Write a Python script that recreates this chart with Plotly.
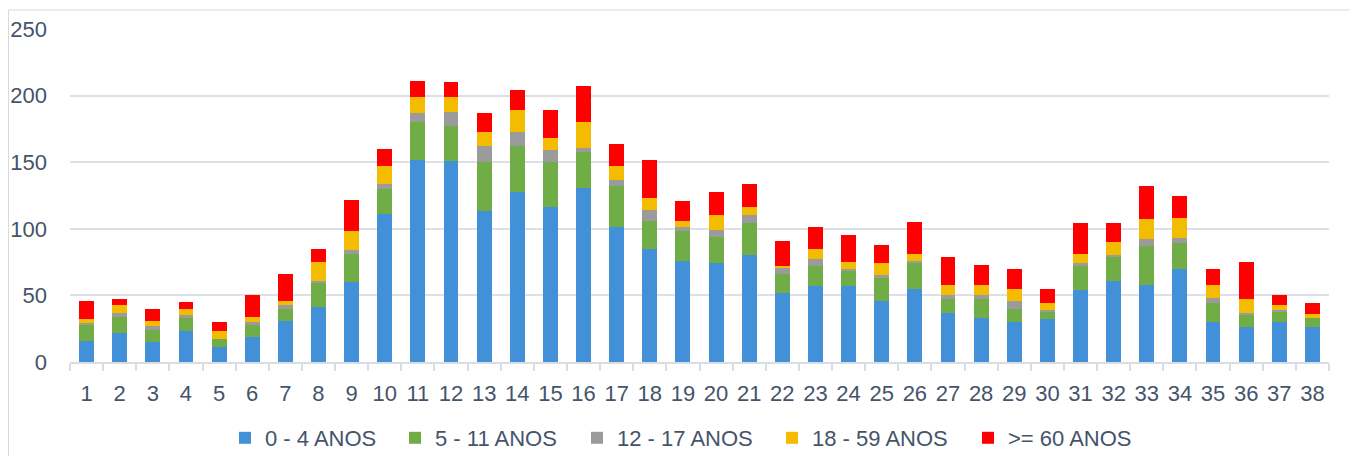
import plotly.graph_objects as go

categories = [str(i) for i in range(1, 39)]

series_names = ["0 - 4 ANOS", "5 - 11 ANOS", "12 - 17 ANOS", "18 - 59 ANOS", ">= 60 ANOS"]

age_0_4 = [16, 22, 15, 23, 11, 19, 31, 41, 60, 111, 152, 151, 113, 128, 116, 131, 101, 85, 76,
           74, 80, 52, 57, 57, 46, 55, 37, 33, 30, 32, 54, 61, 58, 70, 30, 26, 30, 26]
age_5_11 = [12, 12, 9, 10, 6, 9, 9, 19, 21, 19, 28, 26, 37, 34, 34, 27, 31, 21, 22,
            20, 24, 14, 15, 12, 17, 20, 10, 14, 10, 6, 18, 18, 29, 19, 14, 10, 8, 7]
age_12_17 = [1, 3, 3, 2, 0, 2, 3, 1, 3, 4, 7, 11, 12, 11, 9, 3, 5, 8, 3,
             5, 6, 5, 5, 1, 2, 1, 3, 3, 6, 1, 2, 1, 5, 4, 4, 1, 1, 0]
age_18_59 = [3, 6, 4, 5, 6, 4, 3, 14, 14, 13, 12, 11, 11, 16, 9, 19, 10, 9, 5,
             11, 6, 1, 8, 5, 9, 5, 8, 8, 9, 5, 7, 10, 15, 15, 10, 10, 4, 3]
age_60_plus = [14, 4, 9, 5, 7, 16, 20, 10, 24, 13, 12, 11, 14, 15, 21, 27, 17, 29, 15,
               18, 18, 19, 16, 20, 14, 24, 21, 15, 15, 11, 23, 14, 25, 17, 12, 28, 7, 8]

series_values = [age_0_4, age_5_11, age_12_17, age_18_59, age_60_plus]
colors = ["#4190D8", "#70AD47", "#9B9B9B", "#F4BC00", "#FF0000"]
legend_widths = [125, 137, 150, 151, 128]

y_ticks = [0, 50, 100, 150, 200, 250]

FONT = "Liberation Sans, Arial, sans-serif"
TEXT_COLOR = "#44546A"

fig = go.Figure()
for name, vals, col, lw in zip(series_names, series_values, colors, legend_widths):
    fig.add_trace(go.Bar(
        x=categories, y=vals, name=name,
        marker=dict(color=col, line=dict(width=0)),
        legendwidth=lw,
    ))

# page body has an 8px margin, so the figure occupies 1350x448 from (8, 8)
W, H = 1350, 448
ml, mr, mt, mb = 62, 29, 21, 94
pw, ph = W - ml - mr, H - mt - mb

fig.update_layout(
    width=W, height=H,
    barmode="stack",
    bargap=0.55,
    margin=dict(l=ml, r=mr, t=mt, b=mb, autoexpand=False),
    paper_bgcolor="white",
    plot_bgcolor="white",
    font=dict(family=FONT, size=22, color=TEXT_COLOR),
    showlegend=True,
    legend=dict(
        orientation="h",
        x=(675 - ml) / pw, xanchor="center",
        y=(H - mb - 430) / ph, yanchor="middle",
        font=dict(family=FONT, size=22, color=TEXT_COLOR),
        itemwidth=30,
        traceorder="normal",
        bgcolor="rgba(0,0,0,0)",
    ),
    xaxis=dict(
        type="category",
        showgrid=False,
        showline=True, linecolor="#D9DCE1", linewidth=1.5,
        ticks="outside", tickson="boundaries", ticklen=7, tickcolor="#D9DCE1", tickwidth=1.5,
        tickfont=dict(family=FONT, size=22, color=TEXT_COLOR),
        tickangle=0,
        ticklabelstandoff=11,
    ),
    yaxis=dict(
        range=[0, 250],
        tickvals=y_ticks,
        showgrid=True, gridcolor="#DDE1E6", gridwidth=1.5,
        zeroline=False,
        showline=False,
        ticks="",
        tickfont=dict(family=FONT, size=22, color=TEXT_COLOR),
        ticklabelstandoff=22,
    ),
    shapes=[dict(
        type="rect", xref="paper", yref="paper",
        x0=(0.5 - ml) / pw, x1=(W + 5 - ml) / pw,
        y0=-1.0, y1=(H - mb - 2) / ph,
        line=dict(color="#D9D9D9", width=1), fillcolor="rgba(0,0,0,0)",
        layer="below",
    )],
)

fig.write_html("out.html")
